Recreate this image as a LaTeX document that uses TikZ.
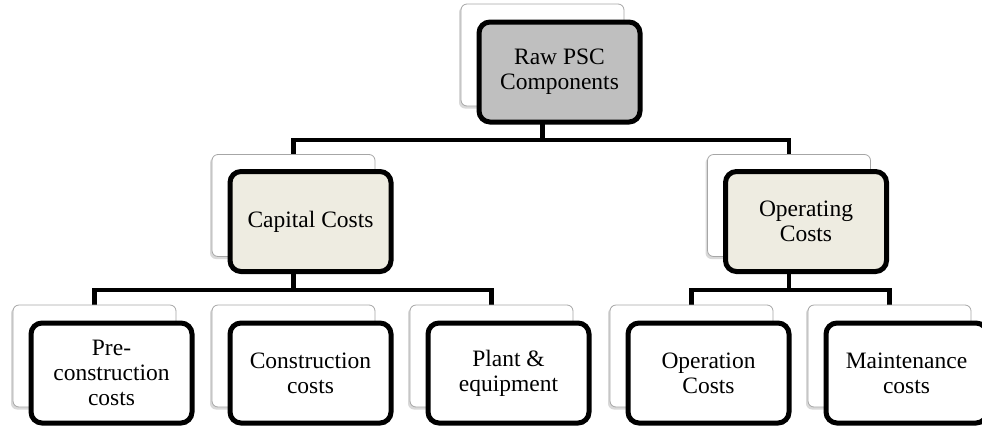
\documentclass[tikz,border=0pt]{standalone}
\usepackage{fontspec}
\setmainfont{Liberation Serif}
\usetikzlibrary{backgrounds,shadows}

\definecolor{topgray}{HTML}{BFBFBF}
\definecolor{midtan}{HTML}{EEECE1}
\definecolor{backline}{HTML}{A6A6A6}

\tikzset{
    backcard/.style={draw=backline, fill=white, line width=0.8pt, rounded corners=6pt,
        minimum width=163pt, minimum height=102pt,
        drop shadow={shadow xshift=-2pt, shadow yshift=-2.5pt, opacity=0.3}},
    frontcard/.style={draw=black, fill=white, line width=5pt, rounded corners=11pt,
        minimum width=161pt, minimum height=100pt, align=center,
        font=\fontsize{23.5}{25}\selectfont},
    link/.style={line width=4.5pt},
}

\begin{document}
\begin{tikzpicture}[x=1pt, y=-1pt]
    \useasboundingbox (0,0) rectangle (982,429);

    % Back cards
    \node[backcard] (rawb)   at (542.5,55) {};
    \node[backcard] (capb)   at (293.5,205.5) {};
    \node[backcard] (opb)    at (789,205.5) {};
    \node[backcard] (preb)   at (94.5,356) {};
    \node[backcard] (conb)   at (293.5,356) {};
    \node[backcard] (plantb) at (491.5,356) {};
    \node[backcard] (opcb)   at (691.5,356) {};
    \node[backcard] (maintb) at (889.5,356) {};

    % Front cards
    \node[frontcard, fill=topgray] (rawf) at ([shift={(17,17)}]rawb.center) {Raw PSC\\Components};
    \node[frontcard, fill=midtan] (capf) at ([shift={(17,16)}]capb.center) {Capital Costs};
    \node[frontcard, fill=midtan] (opf) at ([shift={(17,16)}]opb.center) {Operating\\Costs};
    \node[frontcard] (pref) at ([shift={(17,17)}]preb.center) {Pre-\\construction\\costs};
    \node[frontcard] (conf) at ([shift={(17,17)}]conb.center) {Construction\\costs};
    \node[frontcard] (plantf) at ([shift={(17,17)}]plantb.center) {Plant \&\\equipment};
    \node[frontcard] (opcf) at ([shift={(17,17)}]opcb.center) {Operation\\Costs};
    \node[frontcard] (maintf) at ([shift={(17,17)}]maintb.center) {Maintenance\\costs};

    % Connectors
    \coordinate (bartop) at (0,140);
    \coordinate (barlow) at (0,290);
    \begin{scope}[on background layer]
        \draw[link] (rawb.center) -- (rawb.center |- bartop) -| (capb.center);
        \draw[link] (rawb.center |- bartop) -| (opb.center);
        \draw[link] (capb.center) -- (capb.center |- barlow) -| (preb.center);
        \draw[link] (capb.center |- barlow) -| (plantb.center);
        \draw[link] (opb.center) -- (opb.center |- barlow) -| (opcb.center);
        \draw[link] (opb.center |- barlow) -| (maintb.center);
    \end{scope}
\end{tikzpicture}
\end{document}
